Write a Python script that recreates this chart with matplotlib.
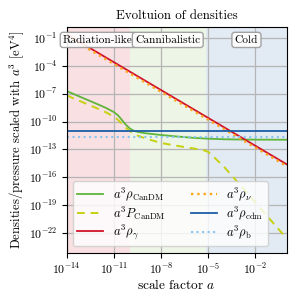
import numpy as np
import matplotlib
matplotlib.use("Agg")
import matplotlib.pyplot as plt
import matplotlib.transforms as mtransforms

plt.rcParams["font.family"] = "serif"
plt.rcParams["font.serif"] = ["cmr10"]
plt.rcParams["mathtext.fontset"] = "cm"
plt.rcParams["axes.formatter.use_mathtext"] = True

# radiation-like and constant species (a^3 * rho, eV^4)
a_ends = [1e-14, 1e0]
rho_gamma = [2.5e-1, 2.5e-15]
rho_nu = [1.6e-1, 1.6e-15]
rho_cdm = [1.07e-11, 1.07e-11]
rho_b = [2.3e-12, 2.3e-12]

# cannibal dark matter (log10 values)
a_can = [1e-14, 1e-13, 1e-12, 3.2e-12, 1e-11, 1.8e-11, 3.2e-11, 5.6e-11,
         1e-10, 1.8e-10, 3.2e-10, 5.6e-10, 1e-9, 1e-8, 1e-7, 1e-6, 1e-5,
         1e-4, 1e-3, 1e-2, 1e0]
log_rho_can = [-6.71, -7.43, -8.15, -8.53, -8.97, -9.3, -9.8, -10.3,
               -10.72, -10.97, -11.1, -11.18, -11.25, -11.44, -11.6, -11.74,
               -11.84, -11.9, -11.93, -11.94, -11.95]

a_p = [1e-14, 1e-13, 1e-12, 3.2e-12, 1e-11, 1.8e-11, 3.2e-11, 5.6e-11,
       1e-10, 1.8e-10, 3.2e-10, 1e-9, 1e-8, 1e-7, 1e-6, 5e-6, 1e-5,
       1.8e-5, 3.2e-5, 1e-4, 1e-3, 1e-2, 1e-1, 1e0]
log_p_can = [-7.18, -7.9, -8.62, -9.0, -9.47, -9.8, -10.2, -10.65,
             -11.0, -11.28, -11.5, -11.8, -12.3, -12.6, -12.87, -13.08,
             -13.25, -13.65, -14.05, -14.85, -16.75, -18.7, -20.65, -22.6]

# phases
phase_names = ["Radiation-like", "Cannibalistic", "Cold"]
phase_edges = [1e-14, 1e-10, 7.4e-6, 1e0]
phase_colors = ["#f8e0e3", "#edf5e6", "#e2eaf3"]

fig, ax = plt.subplots(figsize=(3, 3), dpi=100)
fig.subplots_adjust(left=0.222, right=0.956, top=0.909, bottom=0.158)

for i in range(3):
    ax.axvspan(phase_edges[i], phase_edges[i + 1], color=phase_colors[i],
               zorder=0, lw=0)

ax.plot(a_can, 10 ** np.array(log_rho_can), color="#5fb43a", lw=1.3,
        label=r"$a^3\rho_\mathrm{CanDM}$")
ax.plot(a_p, 10 ** np.array(log_p_can), color="#c6d10f", lw=1.4,
        ls=(0, (4, 3)), label=r"$a^3P_\mathrm{CanDM}$")
ax.plot(a_ends, rho_gamma, color="#d1122a", lw=1.3, label=r"$a^3\rho_\gamma$")
ax.plot(a_ends, rho_nu, color="#ffa51c", lw=1.7, ls=":",
        label=r"$a^3\rho_\nu$")
ax.plot(a_ends, rho_cdm, color="#1b5ea6", lw=1.3,
        label=r"$a^3\rho_\mathrm{cdm}$")
ax.plot(a_ends, rho_b, color="#8cc4f0", lw=1.5, ls=":",
        label=r"$a^3\rho_\mathrm{b}$")

ax.set_xscale("log")
ax.set_yscale("log")
ax.set_xlim(1e-14, 1e0)
ax.set_ylim(10 ** -24.1, 10 ** 0.15)
ax.set_xticks([1e-14, 1e-11, 1e-8, 1e-5, 1e-2])
ax.set_yticks([1e-1, 1e-4, 1e-7, 1e-10, 1e-13, 1e-16, 1e-19, 1e-22])
ax.minorticks_off()
ax.tick_params(labelsize=8.5, length=3.5, width=0.8, pad=3)
ax.grid(True, color="#b5b5b5", lw=0.9)

trans = mtransforms.blended_transform_factory(ax.transData, ax.transAxes)
for i, name in enumerate(phase_names):
    xc = np.sqrt(phase_edges[i] * phase_edges[i + 1])
    ax.text(xc, 0.944, name, transform=trans, ha="center", va="center",
            fontsize=8.2, zorder=5,
            bbox=dict(boxstyle="round,pad=0.25", fc="white", ec="#999999",
                      alpha=0.9))

ax.set_title("Evoltuion of densities", fontsize=9.3)
ax.set_xlabel(r"scale factor $a$", fontsize=9.6, labelpad=1)
ax.set_ylabel(r"Densities/pressure scaled with $a^3$ [eV$^4$]", fontsize=9.2,
              labelpad=2)
ax.legend(loc="lower left", ncol=2, fontsize=9, labelspacing=0.1,
          handlelength=2.1, handletextpad=0.75, columnspacing=2.0,
          borderpad=0.35)

fig.savefig("out.png")
